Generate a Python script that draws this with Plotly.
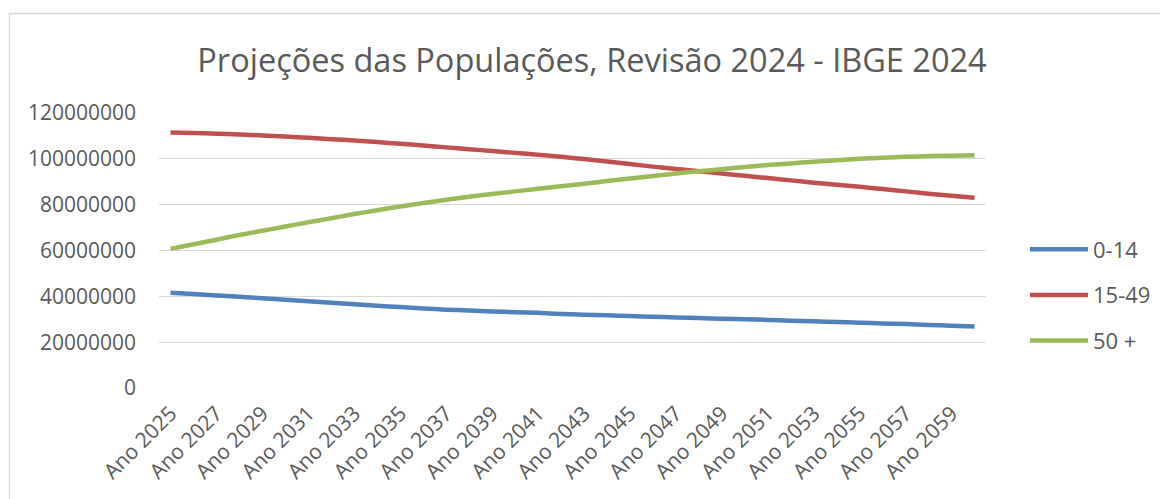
import plotly.graph_objects as go

years = list(range(2025, 2061))
categories = [f"Ano {y}" for y in years]
tick_labels = categories[::2]

pop_0_14 = [41.6, 41.0, 40.4, 39.8, 39.2, 38.5, 37.9, 37.2, 36.5, 35.9,
            35.3, 34.7, 34.2, 33.8, 33.4, 33.1, 32.8, 32.3, 32.0, 31.7,
            31.4, 31.1, 30.8, 30.5, 30.2, 30.0, 29.7, 29.4, 29.1, 28.8,
            28.5, 28.2, 27.9, 27.5, 27.2, 26.8]
pop_15_49 = [111.5, 111.3, 111.0, 110.6, 110.2, 109.7, 109.2, 108.6, 108.0, 107.3,
             106.6, 105.8, 105.0, 104.2, 103.4, 102.6, 101.8, 100.9, 99.9, 98.8,
             97.7, 96.6, 95.6, 94.6, 93.6, 92.6, 91.6, 90.6, 89.6, 88.7,
             87.8, 86.8, 85.8, 84.8, 83.9, 83.0]
pop_50_plus = [60.7, 62.7, 64.7, 66.8, 68.6, 70.5, 72.3, 74.1, 75.9, 77.6,
               79.2, 80.7, 82.1, 83.5, 84.7, 85.8, 86.9, 88.0, 89.1, 90.3,
               91.4, 92.5, 93.6, 94.6, 95.5, 96.4, 97.3, 98.0, 98.7, 99.4,
               100.0, 100.5, 100.9, 101.2, 101.4, 101.6]

series_names = ["0-14", "15-49", "50 +"]
series_values = [pop_0_14, pop_15_49, pop_50_plus]
series_colors = ["#4f81bd", "#c0504d", "#9bbb59"]

title_text = "Projeções das Populações, Revisão 2024 - IBGE 2024"
FONT = "Open Sans"
GREY = "#595959"

fig = go.Figure()
for name, vals, col in zip(series_names, series_values, series_colors):
    fig.add_trace(go.Scatter(
        x=categories, y=[v * 1e6 for v in vals], name=name, mode="lines",
        line=dict(color=col, width=4.5, shape="spline", smoothing=0.6),
        legendgroup=name,
    ))

W, H = 1160, 499
L, R, T, B = 159, 174, 113, 111
pw, ph = W - L - R, H - T - B

fig.update_layout(
    width=W, height=H,
    margin=dict(l=L, r=R, t=T, b=B, pad=0, autoexpand=False),
    paper_bgcolor="white", plot_bgcolor="white",
    font=dict(family=FONT, color=GREY, size=21),
    title=dict(text=title_text, x=592 / W, xanchor="center",
               y=1 - 61 / H, yanchor="middle", yref="container",
               font=dict(family=FONT, size=32.5, color=GREY)),
    xaxis=dict(type="category", range=[-0.5, len(categories) - 0.5],
               tickmode="array", tickvals=tick_labels, ticktext=tick_labels,
               tickangle=-45, showgrid=False, showline=False, zeroline=False,
               ticks="", ticklabelstandoff=8,
               tickfont=dict(family=FONT, size=21, color=GREY)),
    yaxis=dict(range=[0, 120e6], dtick=20e6, tick0=0, tickformat="d",
               showgrid=True, gridcolor="#d9d9d9", gridwidth=1.3,
               zeroline=False, showline=False, ticks="",
               ticklabelstandoff=22,
               tickfont=dict(family=FONT, size=21, color=GREY)),
    legend=dict(x=(1025 - L) / pw, xanchor="left",
                y=(H - B - 295) / ph, yanchor="middle",
                font=dict(family=FONT, size=22, color=GREY),
                tracegroupgap=14, itemwidth=58, bgcolor="rgba(0,0,0,0)"),
    shapes=[dict(type="rect", xref="paper", yref="paper",
                 x0=(9.5 - L) / pw, x1=(1170 - L) / pw,
                 y0=(H - B - 510) / ph, y1=(H - B - 13.5) / ph,
                 line=dict(color="#d9d9d9", width=1.3), layer="below")],
)

fig.write_html("out.html", config={"displayModeBar": False},
               post_script="document.body.style.margin='0';document.body.style.overflow='hidden';")
